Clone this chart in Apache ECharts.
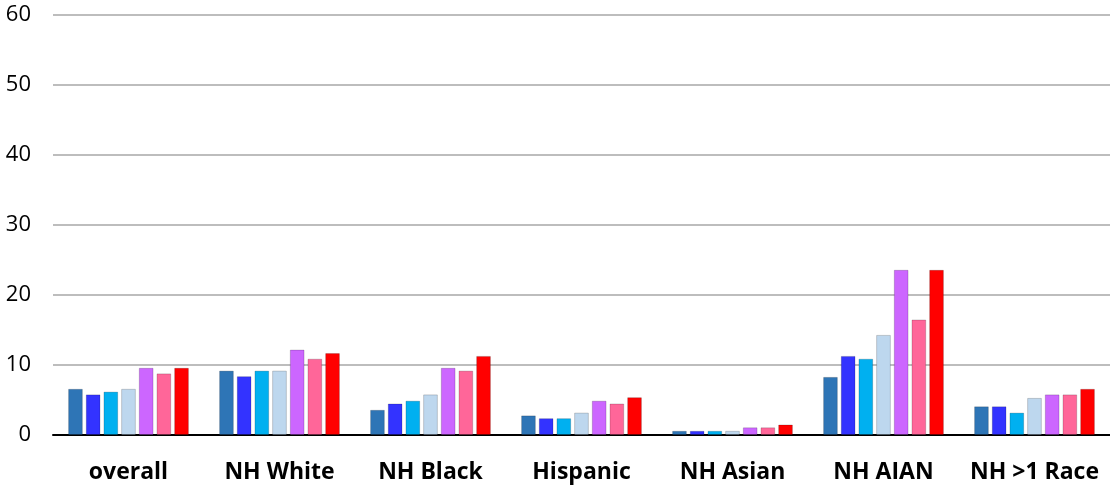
<!DOCTYPE html>
<html>
<head>
<meta charset="utf-8">
<script src="https://cdn.jsdelivr.net/npm/echarts@6/dist/echarts.min.js"></script>
<style>
  html, body { margin: 0; padding: 0; background: #fff; }
  #chart { width: 1110px; height: 486px; }
</style>
</head>
<body>
<div id="chart"></div>
<script>
// grouped bars, 7 groups x 7 series, no legend in the source
const categories = ['overall', 'NH White', 'NH Black', 'Hispanic', 'NH Asian', 'NH AIAN', 'NH >1 Race']

const s1 = [6.6, 9.2, 3.6, 2.8, 0.6, 8.3, 4.1]
const s2 = [5.8, 8.4, 4.5, 2.4, 0.6, 11.3, 4.1]
const s3 = [6.2, 9.2, 4.9, 2.4, 0.6, 10.9, 3.2]
const s4 = [6.6, 9.2, 5.8, 3.2, 0.6, 14.3, 5.3]
const s5 = [9.6, 12.2, 9.6, 4.9, 1.1, 23.6, 5.8]
const s6 = [8.8, 10.9, 9.2, 4.5, 1.1, 16.5, 5.8]
const s7 = [9.6, 11.7, 11.3, 5.4, 1.5, 23.6, 6.6]

const seriesData = [s1, s2, s3, s4, s5, s6, s7]
const colors = ['#2E75B6', '#3333FF', '#00B0F0', '#BDD7EE', '#CC66FF', '#FF6699', '#FF0000']

const chart = echarts.init(document.getElementById('chart'), null, { renderer: 'canvas' })

chart.setOption({
  animation: false,
  grid: { left: 53, right: 0, top: 15, bottom: 51 },
  xAxis: {
    type: 'category', data: categories,
    axisLine: { show: true, lineStyle: { color: '#000', width: 2 } },
    axisTick: { show: false },
    axisLabel: {
      color: '#000', fontFamily: 'Open Sans', fontWeight: 'bold',
      fontSize: 23, margin: 26, interval: 0,
    },
  },
  yAxis: {
    type: 'value', min: 0, max: 60, interval: 10,
    axisLine: { show: false },
    axisTick: { show: false },
    splitLine: { lineStyle: { color: '#bdbdbd', width: 2 } },
    axisLabel: { color: '#000', fontFamily: 'Open Sans', fontSize: 22, margin: 22 },
  },
  series: seriesData.map((d, i) => ({
    type: 'bar', data: d,
    barGap: '20%', barCategoryGap: '20%',
    itemStyle: { color: colors[i], borderColor: 'rgba(0,0,0,0.18)', borderWidth: 1 },
  })),
})
</script>
</body>
</html>
